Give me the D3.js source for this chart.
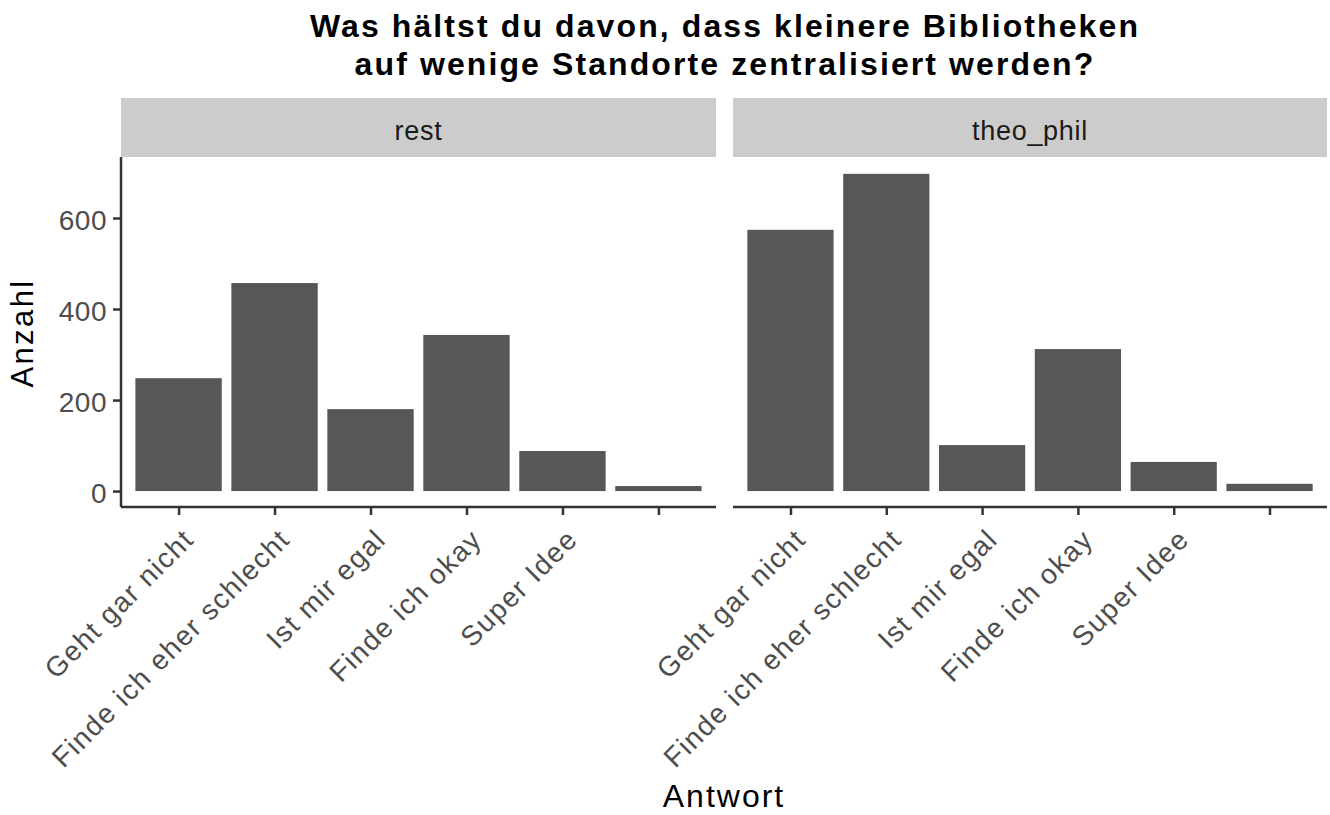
<!DOCTYPE html>
<html><head><meta charset="utf-8">
<script src="https://cdn.jsdelivr.net/npm/d3@7"></script>
<style>body{margin:0;background:#fff;} text{font-family:"Liberation Sans",Arial,sans-serif;}</style>
</head><body>
<svg id="chart" width="1330" height="815"></svg>
<script>
const categories = ["Geht gar nicht","Finde ich eher schlecht","Ist mir egal","Finde ich okay","Super Idee",""];
const panels = ["rest","theo_phil"];
const restValues = [248, 457, 180, 343, 88, 11];
const theoPhilValues = [574, 697, 101, 312, 64, 16];
const yTicks = [0, 200, 400, 600];
const titleLines = ["Was hältst du davon, dass kleinere Bibliotheken","auf wenige Standorte zentralisiert werden?"];

const svg = d3.select("#chart");
const panelX = [[121, 716], [733, 1327]];
const panelTop = 157, panelBottom = 507;
const y = d3.scaleLinear().domain([-35, 734]).range([panelBottom, panelTop]);
const seriesByPanel = [restValues, theoPhilValues];
const axisColor = "#333333";

svg.selectAll("text.title").data(titleLines).enter().append("text")
  .attr("x", 725).attr("y", (d,i)=>37 + i*38)
  .attr("text-anchor","middle").attr("font-size", 32).attr("font-weight","bold")
  .attr("letter-spacing", 2.1).attr("fill","#000")
  .text(d=>d);

panels.forEach((p, pi) => {
  const [x0, x1] = panelX[pi];
  const bandW = (x1 - x0) / 6.2;
  const x = d3.scalePoint().domain(categories.map((c,i)=>i)).range([x0 + 0.6*bandW, x1 - 0.6*bandW]);
  const g = svg.append("g");
  g.append("rect").attr("x", x0).attr("y", 98).attr("width", x1 - x0).attr("height", 59).attr("fill", "#cccccc");
  g.append("text").attr("x", (x0+x1)/2).attr("y", 140).attr("text-anchor","middle")
    .attr("font-size", 27).attr("letter-spacing", 0.7).attr("fill","#1a1a1a").text(p);
  g.selectAll("rect.bar").data(seriesByPanel[pi]).enter().append("rect")
    .attr("x", (d,i)=>x(i) - 0.45*bandW).attr("width", 0.9*bandW)
    .attr("y", d=>y(d)).attr("height", d=>y(0)-y(d)).attr("fill","#575757");
  const xAxis = d3.axisBottom(x).tickSize(8).tickFormat("");
  const xg = g.append("g").attr("transform", `translate(0,${panelBottom})`).call(xAxis);
  xg.select(".domain").attr("d", `M${x0},0H${x1}`).attr("stroke",axisColor).attr("stroke-width",2.5);
  xg.selectAll(".tick line").attr("stroke",axisColor).attr("stroke-width",2.5);
  xg.selectAll(".tick text").remove();
  g.selectAll("text.xl").data(categories).enter().append("text")
    .attr("transform", (d,i)=>`translate(${x(i)+17},${541}) rotate(-45)`)
    .attr("text-anchor","end")
    .attr("font-size", 28).attr("letter-spacing", 1.5).attr("fill","#4d4d4d").text(d=>d);
  if (pi === 0) {
    const yAxis = d3.axisLeft(y).tickValues(yTicks).tickSize(8).tickPadding(6);
    const yg = g.append("g").attr("transform", `translate(${x0},0)`).call(yAxis);
    yg.select(".domain").attr("d", `M0,${panelTop}V${panelBottom}`).attr("stroke",axisColor).attr("stroke-width",2.5);
    yg.selectAll(".tick line").attr("stroke",axisColor).attr("stroke-width",2.5);
    yg.selectAll(".tick text").attr("font-size", 28).attr("dy","0.42em").attr("fill","#4d4d4d")
      .attr("font-family","Liberation Sans, Arial, sans-serif").attr("letter-spacing", 0.5);
  }
});

svg.append("text").attr("x", 724).attr("y", 807).attr("text-anchor","middle")
  .attr("font-size", 32).attr("letter-spacing", 2).attr("fill","#000").text("Antwort");
svg.append("text").attr("transform","translate(33,333) rotate(-90)").attr("text-anchor","middle")
  .attr("font-size", 31).attr("letter-spacing", 2.4).attr("fill","#000").text("Anzahl");
</script>
</body></html>
